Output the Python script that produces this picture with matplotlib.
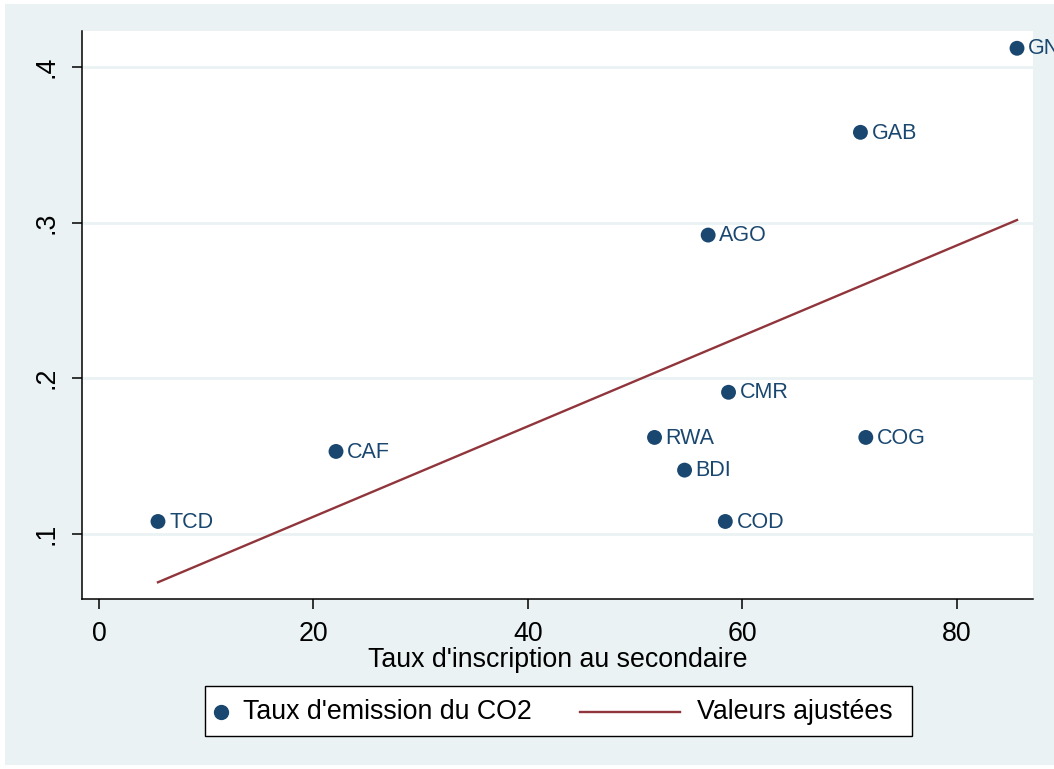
import numpy as np
import matplotlib
matplotlib.use("Agg")
import matplotlib.pyplot as plt
from matplotlib.patches import Rectangle
from matplotlib.lines import Line2D

plt.rcParams['font.family'] = ['Liberation Sans', 'DejaVu Sans']

# Country codes, secondary enrolment rate (%) and CO2 emission rate
countries = ["TCD", "CAF", "RWA", "BDI", "CMR", "COD", "AGO", "COG", "GAB", "GNQ"]
enrolment = [5.5, 22.1, 51.8, 54.6, 58.7, 58.4, 56.8, 71.5, 71.0, 85.6]
co2_rate = [0.108, 0.153, 0.162, 0.141, 0.191, 0.108, 0.292, 0.162, 0.358, 0.412]

x_ticks = [0, 20, 40, 60, 80]
y_ticks = [0.1, 0.2, 0.3, 0.4]
y_tick_labels = [".1", ".2", ".3", ".4"]
legend_labels = ["Taux d'emission du CO2", "Valeurs ajustées"]

navy = "#1a476f"
maroon = "#90353b"
region_bg = "#eaf2f3"
big = 19.3

W, H = 1054, 769
fig = plt.figure(figsize=(W / 100, H / 100), dpi=100, facecolor="white")


def fx(px):
    return px / W


def fy(py):
    return 1 - py / H


# Graph region background
fig.patches.append(Rectangle((fx(5), fy(765)), fx(W - 5), (H - 8) / H,
                             transform=fig.transFigure, facecolor=region_bg,
                             edgecolor="none", zorder=-10))

ax = fig.add_axes([fx(82), fy(599), fx(1033 - 82), (599 - 31) / H])
ax.set_zorder(1)
ax.set_facecolor("white")

x = np.array(enrolment)
y = np.array(co2_rate)

# Linear fit (fitted values)
slope, intercept = np.polyfit(x, y, 1)
xf = np.array([x.min(), x.max()])
ax.plot(xf, intercept + slope * xf, color=maroon, lw=1.7, zorder=3)

ax.scatter(x, y, s=115, color=navy, edgecolors="none", zorder=4)
for cx, cy, name in zip(x, y, countries):
    ax.annotate(name, (cx, cy), xytext=(8, -0.5), textcoords="offset points",
                va="center", ha="left", fontsize=15.5, color=navy,
                annotation_clip=False, clip_on=False, zorder=5)

ax.set_xlim(-1.585, 87.09)
ax.set_ylim(0.0582, 0.4231)
ax.set_xticks(x_ticks)
ax.set_xticklabels([str(t) for t in x_ticks])
ax.set_yticks(y_ticks)
ax.set_yticklabels(y_tick_labels, rotation=90, va="center")

ax.grid(axis="y", color=region_bg, lw=2)
ax.set_axisbelow(True)
for side in ("top", "right"):
    ax.spines[side].set_visible(False)
for side in ("left", "bottom"):
    ax.spines[side].set_linewidth(1.1)
    ax.spines[side].set_color("black")

ax.tick_params(axis="both", direction="out", length=7.5, width=1.1,
               labelsize=big, colors="black")
ax.tick_params(axis="x", pad=8)
ax.tick_params(axis="y", pad=9)

ax.set_xlabel("Taux d'inscription au secondaire", fontsize=big, labelpad=0)

# Legend box below the plot
fig.patches.append(Rectangle((fx(205), fy(736)), fx(912 - 205), (736 - 686) / H,
                             transform=fig.transFigure, facecolor="white",
                             edgecolor="black", lw=1.0, zorder=2))
ly = fy(712)
fig.lines.append(Line2D([fx(221)], [ly], marker="o", ls="none", color=navy,
                        markersize=10, transform=fig.transFigure, zorder=3))
fig.text(fx(243), ly, legend_labels[0], fontsize=big, va="center", ha="left",
         zorder=3)
fig.lines.append(Line2D([fx(580), fx(680)], [ly, ly], color=maroon, lw=1.7,
                        transform=fig.transFigure, zorder=3))
fig.text(fx(697), ly, legend_labels[1], fontsize=big, va="center", ha="left",
         zorder=3)

fig.savefig("out.png", dpi=100, facecolor="white")
